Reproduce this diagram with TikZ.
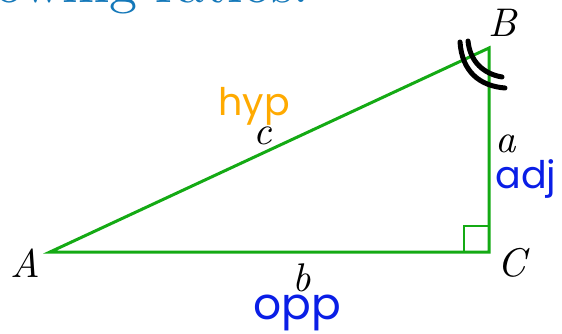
\documentclass[tikz,border=0pt]{standalone}
\usepackage{fontspec}
\newfontfamily\handfont{Poppins}
\newfontfamily\titlefont{lmroman10-regular.otf}
\newfontfamily\labelfont{lmroman10-italic.otf}
\definecolor{trigreen}{RGB}{20,170,20}
\definecolor{titleblue}{RGB}{20,120,185}
\definecolor{penblue}{RGB}{10,30,230}
\definecolor{penorange}{RGB}{255,170,0}
\tikzset{
  side/.style={trigreen,line width=3pt},
  vlabel/.style={font=\labelfont\fontsize{40}{44}\selectfont,inner sep=0pt},
  hand/.style={font=\handfont\fontsize{38}{40}\selectfont,inner sep=0pt},
  anglemark/.style={line width=5pt,line cap=round},
}
\begin{document}
\begin{tikzpicture}[x=1pt,y=-1pt]
    \useasboundingbox (0,0) rectangle (562,334);
    \clip (0,0) rectangle (562,334);
    % title, cut off at the top
    \node[anchor=base east,text=titleblue,inner sep=0pt,
      font=\titlefont\fontsize{56}{60}\selectfont] (title) at (309,3) {following ratios:};
    % triangle
    \coordinate (A) at (50,252);
    \coordinate (B) at (489,48);
    \coordinate (C) at (489,252);
    \draw[side,line join=miter] (A) -- (B) -- (C) -- cycle;
    % right angle
    \draw[trigreen,line width=1.3pt] ([xshift=-25pt]C) |- ([yshift=26pt]C);
    % vertex labels
    \node[vlabel] (lA) at (25,263) {A};
    \node[vlabel] (lB) at (503,23) {B};
    \node[vlabel] (lC) at (512,263) {C};
    % side labels
    \node[vlabel] (la) at (506,144) {a};
    \node[vlabel] (lb) at (302,278) {b};
    \node[vlabel] (lc) at (263,136) {c};
    % handwritten notes
    \node[hand,text=penorange] (hyp) at (254,106) {hyp};
    \node[hand,text=penblue] (adj) at (526,179) {adj};
    \node[hand,text=penblue,font=\handfont\fontsize{44}{46}\selectfont] (opp) at (297,313) {opp};
    % angle marks at B
    \draw[anglemark] (460,42) .. controls (462,72) and (480,86) .. (505,88);
    \draw[anglemark] (468,41) .. controls (470,62) and (484,74) .. (502,77);
\end{tikzpicture}
\end{document}
